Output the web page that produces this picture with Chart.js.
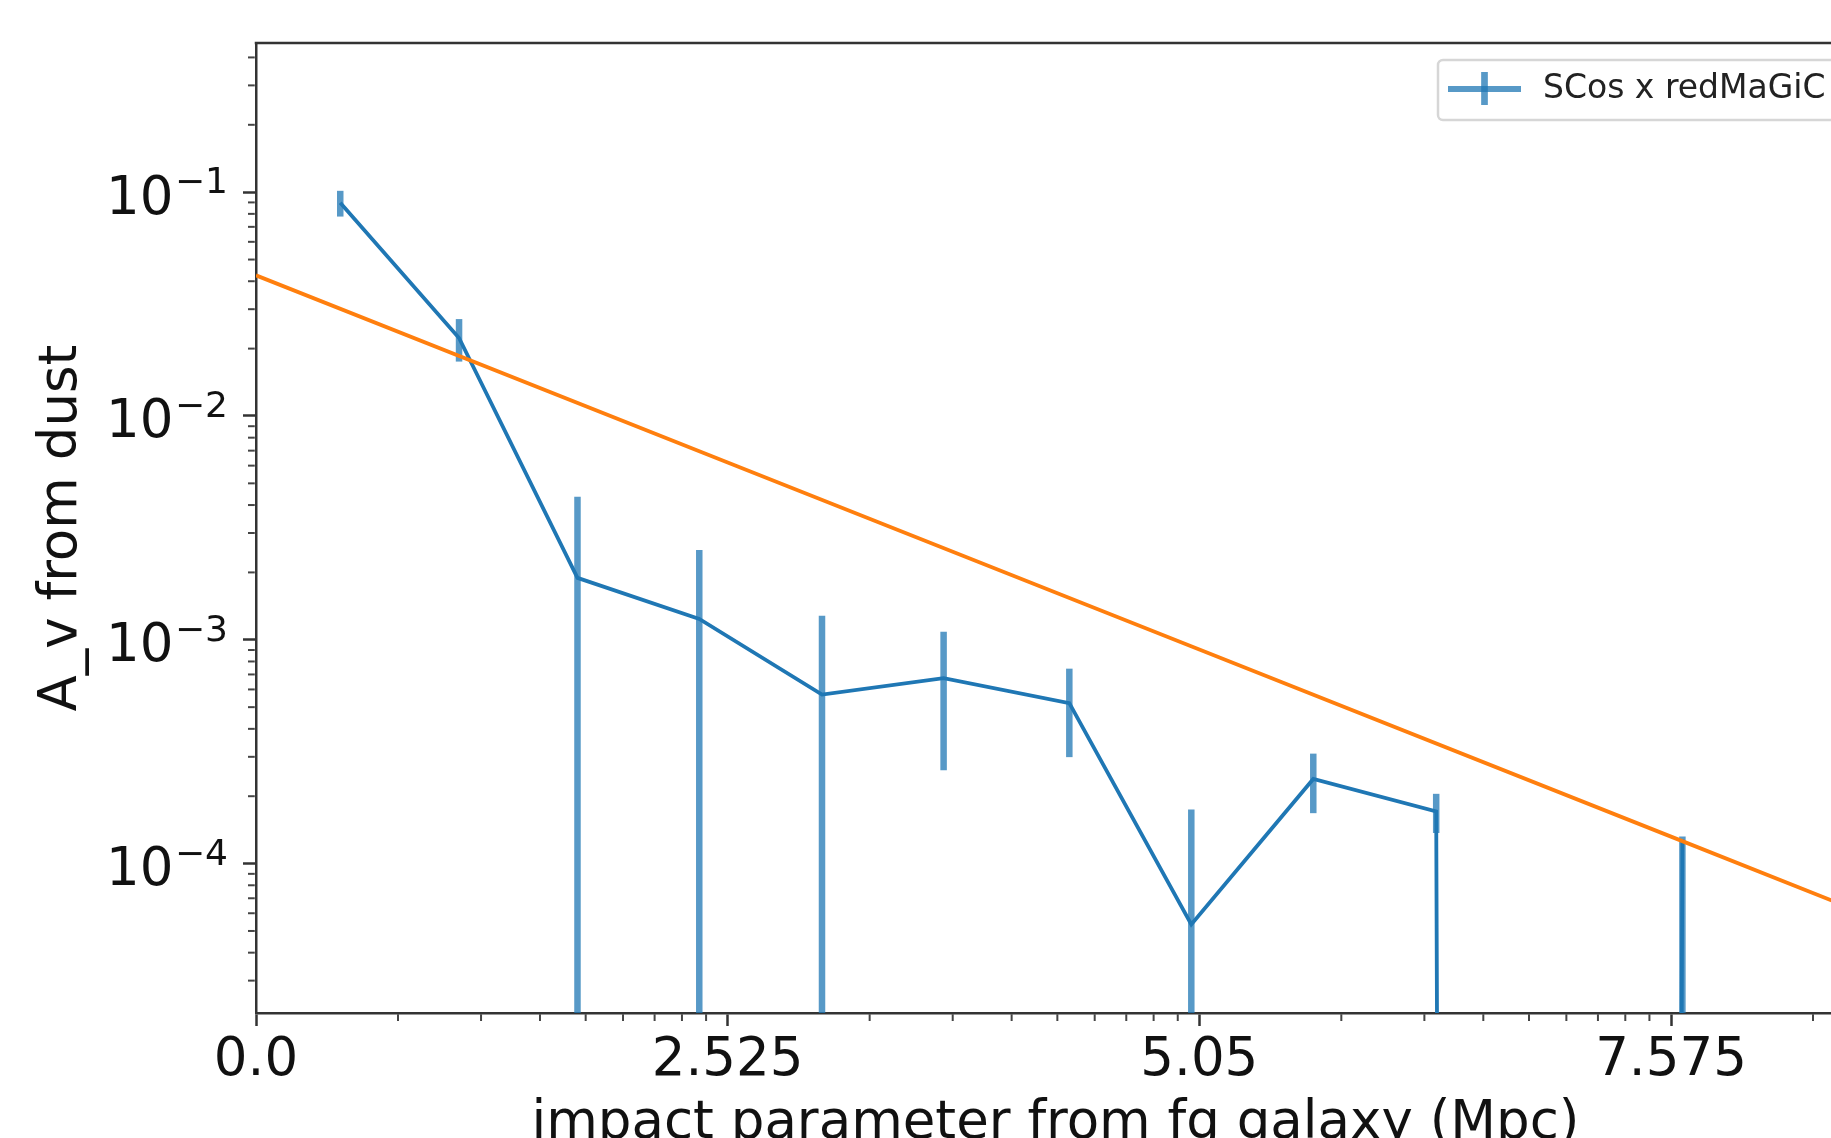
<!DOCTYPE html>
<html>
<head>
<meta charset="utf-8">
<script src="https://cdn.jsdelivr.net/npm/chart.js@4.4.0/dist/chart.umd.min.js"></script>
<style>
  html, body { margin: 0; padding: 0; background: #fff; overflow: hidden; }
  #wrap { width: 1900px; height: 1138px; }
</style>
</head>
<body>
<div id="wrap"><canvas id="myCanvas" width="1900" height="1138"></canvas></div>
<script>
// impact parameter of each bin (Mpc)
const impact = [0.451, 1.087, 1.721, 2.373, 3.030, 3.681, 4.354, 5.007, 5.660, 6.318, 6.977, 7.636];
// A_v from dust, SCos x redMaGiC (bin 11 is negative, so it drops off the log axis)
const avDust = [0.0896, 0.0223, 0.00189, 0.00124, 0.000569, 0.000674, 0.000521, 0.0000535, 0.000239, 0.000171, -0.0002, 0.000128];
// error bars, below / above the value
const avErrLow = [0.0118, 0.0048, 0.00247, 0.00128, 0.000713, 0.000413, 0.000222, 0.000121, 0.000071, 0.000034, 0.0001, 0.000135];
const avErrHigh = [0.0118, 0.0048, 0.00247, 0.00128, 0.000713, 0.000413, 0.000222, 0.000121, 0.000071, 0.000034, 0.0001, 0.000004];

// model curve (orange)
const modelX = [0, 2.525, 5.05, 7.575, 10.1];
const modelY = [0.0425, 0.0062, 0.000904, 0.000132, 0.0000192];

// ticks
const xMajorTicks = [0, 2.525, 5.05, 7.575];
const xTickLabels = ["0.0", "2.525", "5.05", "7.575"];
const yMajorTicks = [1e-4, 1e-3, 1e-2, 1e-1];
const yTickExponents = ["\u22124", "\u22123", "\u22122", "\u22121"];

const xMin = 0, xMax = 8.56;
const yMin = 2.15e-5, yMax = 0.464;

const FONT = '"DejaVu Sans", sans-serif';
const BLUE = '#1f77b4';
const BLUE_ERR = 'rgba(31,119,180,0.75)';

// log axes can't show values <= 0, push them far below like matplotlib does
const clipLog = (v) => (v > 0 ? v : 1e-300);

const scosPts = impact.map((x, i) => ({ x: x, y: clipLog(avDust[i]) }));
const modelPts = modelX.map((x, i) => ({ x: x, y: modelY[i] }));

const buildXTicks = (scale) => {
  const step = xMajorTicks[1] - xMajorTicks[0];
  const ticks = [];
  xMajorTicks.forEach((m) => {
    ticks.push({ value: m, major: true });
    for (let k = 2; k <= 9; k++) {
      const v = m + Math.log10(k) * step;
      if (v <= xMax) ticks.push({ value: v, major: false });
    }
  });
  scale.ticks = ticks;
};

const buildYTicks = (scale) => {
  const ticks = [];
  for (let e = -5; e <= 0; e++) {
    for (let k = 1; k <= 9; k++) {
      const v = k * Math.pow(10, e);
      if (v >= yMin && v <= yMax) ticks.push({ value: v, major: k === 1 });
    }
  }
  scale.ticks = ticks;
};

const errorBars = {
  id: 'errorBars',
  beforeDatasetsDraw(chart) {
    const { ctx, chartArea: a, scales: { x, y } } = chart;
    ctx.save();
    ctx.beginPath();
    ctx.rect(a.left, a.top, a.right - a.left, a.bottom - a.top);
    ctx.clip();
    ctx.strokeStyle = BLUE_ERR;
    ctx.lineWidth = 6.5;
    impact.forEach((xv, i) => {
      const px = x.getPixelForValue(xv);
      const top = y.getPixelForValue(clipLog(avDust[i] + avErrHigh[i]));
      const bot = y.getPixelForValue(clipLog(avDust[i] - avErrLow[i]));
      ctx.beginPath();
      ctx.moveTo(px, top);
      ctx.lineTo(px, bot);
      ctx.stroke();
    });
    ctx.restore();
  }
};

const frameAndLabels = {
  id: 'frameAndLabels',
  afterDraw(chart) {
    const { ctx, chartArea: a, scales: { x, y } } = chart;
    ctx.save();
    // top spine
    ctx.strokeStyle = '#333';
    ctx.lineWidth = 2.5;
    ctx.beginPath();
    ctx.moveTo(a.left - 1.25, a.top);
    ctx.lineTo(a.right + 1.25, a.top);
    ctx.stroke();

    // minor tick marks
    ctx.lineWidth = 2;
    ctx.strokeStyle = '#444';
    x.ticks.filter((t) => !t.major).forEach((t) => {
      const px = x.getPixelForValue(t.value);
      ctx.beginPath();
      ctx.moveTo(px, a.bottom + 1.25);
      ctx.lineTo(px, a.bottom + 8);
      ctx.stroke();
    });
    y.ticks.filter((t) => !t.major).forEach((t) => {
      const py = y.getPixelForValue(t.value);
      ctx.beginPath();
      ctx.moveTo(a.left - 1.25, py);
      ctx.lineTo(a.left - 8, py);
      ctx.stroke();
    });

    // y tick labels as 10^n
    ctx.fillStyle = '#111';
    ctx.textBaseline = 'alphabetic';
    ctx.textAlign = 'left';
    yMajorTicks.forEach((v, i) => {
      const py = y.getPixelForValue(v);
      ctx.font = '53px ' + FONT;
      const w1 = ctx.measureText('10').width;
      ctx.font = '36px ' + FONT;
      const w2 = ctx.measureText(yTickExponents[i]).width;
      const supX = 228 - w2;
      const baseX = supX - 1.5 - w1;
      ctx.fillText(yTickExponents[i], supX, py + 1);
      ctx.font = '53px ' + FONT;
      ctx.fillText('10', baseX, py + 21.5);
    });

    // legend (upper right, partly outside the picture)
    const label = chart.data.datasets[1].label;
    ctx.font = '33px ' + FONT;
    const tw = ctx.measureText(label).width;
    const bx = 1438, by = 60, bh = 60;
    const bw = 1543 + tw + 14 - bx;
    ctx.fillStyle = 'rgba(255,255,255,0.8)';
    ctx.strokeStyle = '#d6d6d6';
    ctx.lineWidth = 2.5;
    ctx.beginPath();
    ctx.roundRect(bx, by, bw, bh, 5);
    ctx.fill();
    ctx.stroke();
    ctx.strokeStyle = BLUE_ERR;
    ctx.lineWidth = 6;
    ctx.beginPath();
    ctx.moveTo(1448, 89);
    ctx.lineTo(1521, 89);
    ctx.stroke();
    ctx.lineWidth = 6.7;
    ctx.beginPath();
    ctx.moveTo(1484.5, 72);
    ctx.lineTo(1484.5, 105);
    ctx.stroke();
    ctx.fillStyle = '#222';
    ctx.fillText(label, 1543, 97.5);
    ctx.restore();
  }
};

new Chart(document.getElementById('myCanvas'), {
  type: 'line',
  data: {
    datasets: [
      {
        label: 'model',
        data: modelPts,
        borderColor: '#ff7f0e',
        borderWidth: 3.8,
        pointRadius: 0,
        tension: 0,
        order: 0,
      },
      {
        label: 'SCos x redMaGiC',
        data: scosPts,
        borderColor: BLUE,
        borderWidth: 3.8,
        pointRadius: 0,
        tension: 0,
        order: 1,
      },
    ],
  },
  options: {
    responsive: false,
    animation: false,
    devicePixelRatio: 1,
    layout: { padding: { left: 0, top: 43, right: 45, bottom: 0 } },
    plugins: {
      legend: { display: false },
      tooltip: { enabled: false },
    },
    scales: {
      x: {
        type: 'linear',
        min: xMin,
        max: xMax,
        afterBuildTicks: buildXTicks,
        afterFit: (s) => { s.height = 125; },
        grid: {
          drawOnChartArea: false,
          tickLength: 13,
          tickWidth: 2.5,
          tickColor: (c) => (c.tick && c.tick.major ? '#333' : 'rgba(0,0,0,0)'),
        },
        border: { color: '#333', width: 2.5 },
        ticks: {
          autoSkip: false,
          maxRotation: 0,
          padding: 3,
          color: '#111',
          font: { family: FONT, size: 53 },
          callback: (v) => {
            const i = xMajorTicks.indexOf(v);
            return i >= 0 ? xTickLabels[i] : '';
          },
        },
        title: {
          display: true,
          text: 'impact parameter from fg galaxy (Mpc)',
          color: '#111',
          font: { family: FONT, size: 53 },
          padding: { top: 0, bottom: -18 },
        },
      },
      y: {
        type: 'logarithmic',
        min: yMin,
        max: yMax,
        afterBuildTicks: buildYTicks,
        afterFit: (s) => { s.width = 256; },
        grid: {
          drawOnChartArea: false,
          tickLength: 13,
          tickWidth: 2.5,
          tickColor: (c) => (c.tick && c.tick.major ? '#333' : 'rgba(0,0,0,0)'),
        },
        border: { color: '#333', width: 2.5 },
        ticks: { display: false, autoSkip: false },
        title: {
          display: true,
          text: 'A_v from dust',
          color: '#111',
          font: { family: FONT, size: 53 },
          padding: { top: 30, bottom: 0 },
        },
      },
    },
  },
  plugins: [errorBars, frameAndLabels],
});
</script>
</body>
</html>
